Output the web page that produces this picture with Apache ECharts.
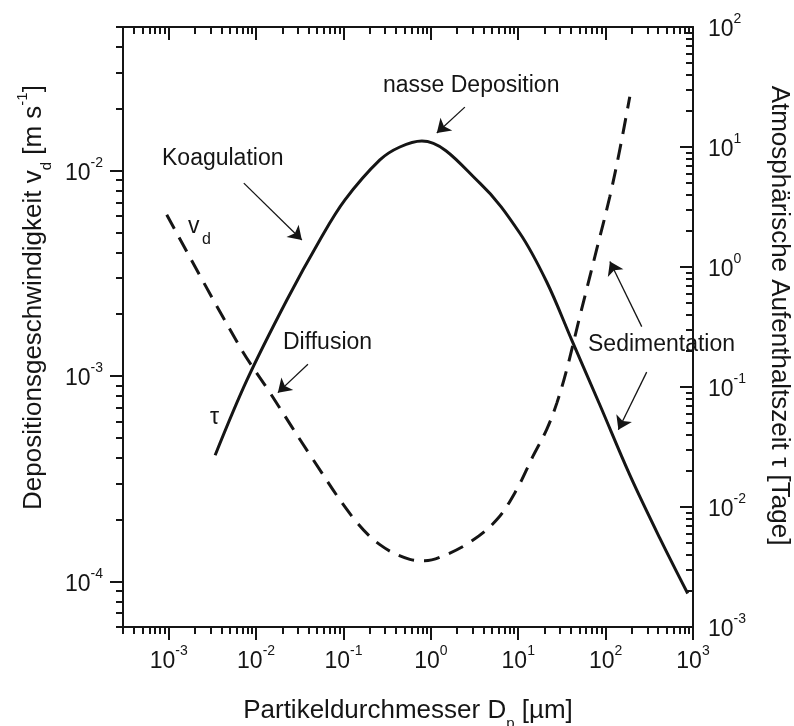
<!DOCTYPE html>
<html>
<head>
<meta charset="utf-8">
<script src="https://cdn.jsdelivr.net/npm/echarts@6/dist/echarts.min.js"></script>
<style>
  html, body { margin: 0; padding: 0; background: #ffffff; }
  #chart { width: 794px; height: 726px; }
</style>
</head>
<body>
<div id="chart"></div>
<script>
// Deposition velocity v_d [m/s] versus particle diameter D_p [µm] (dashed, left axis)
const vdDiameter = [9.5e-4, 6.5e-3, 0.0144, 0.0447, 0.128, 0.261, 0.575, 0.85, 1.27, 2.79, 5.7, 9.6, 14.7, 21.2, 27.7, 36, 50.7, 79, 112, 145, 189];
const vdValues   = [6.1e-3, 1.39e-3, 8.3e-4, 3.93e-4, 2.05e-4, 1.51e-4, 1.28e-4, 1.26e-4, 1.31e-4, 1.55e-4, 2.0e-4, 2.8e-4, 4.06e-4, 5.5e-4, 7.4e-4, 1.08e-3, 1.95e-3, 4.13e-3, 7.5e-3, 0.0126, 0.0229];

// Atmospheric residence time τ [days] versus particle diameter D_p [µm] (solid, right axis)
const tauDiameter = [3.4e-3, 7.85e-3, 0.0225, 0.0537, 0.104, 0.261, 0.442, 0.79, 3.64, 10.4, 21.2, 41, 86, 189, 417, 870];
const tauValues   = [0.027, 0.114, 0.531, 1.68, 3.62, 7.8, 10.0, 11.2, 5.0, 1.92, 0.75, 0.246, 0.0708, 0.0185, 0.0055, 0.0019];

// Axis ranges and labelled decades
const xRange = [3e-4, 1e3];
const vdRange = [6e-5, 5e-2];
const tauRange = [1e-3, 1e2];
const xTickValues = [1e-3, 1e-2, 1e-1, 1, 10, 100, 1000];
const vdTickValues = [1e-4, 1e-3, 1e-2];
const tauTickValues = [1e-3, 1e-2, 1e-1, 1, 10, 100];

const FONT = '"Liberation Sans", Arial, Helvetica, sans-serif';
const INK = '#151515';

// decades 10^k inside a range
function decadesIn(range) {
  const out = [];
  for (let k = Math.floor(Math.log10(range[0])); k <= Math.ceil(Math.log10(range[1])); k++) {
    const v = Number(Math.pow(10, k).toPrecision(6));
    if (v >= range[0] * 0.9999 && v <= range[1] * 1.0001) out.push(v);
  }
  return out;
}
// 2·10^k ... 9·10^k inside a range
function minorsIn(range) {
  const out = [];
  for (let k = Math.floor(Math.log10(range[0])) - 1; k <= Math.ceil(Math.log10(range[1])); k++) {
    for (let m = 2; m <= 9; m++) {
      const v = Number((m * Math.pow(10, k)).toPrecision(6));
      if (v >= range[0] * 0.9999 && v <= range[1] * 1.0001) out.push(v);
    }
  }
  return out;
}

function powerLabel(v) {
  const e = Math.round(Math.log10(v));
  return '{b|10}{s|' + e + '}';
}
const powerRich = {
  b: { fontFamily: FONT, fontSize: 23, color: INK, padding: [6, 0, 0, 0] },
  s: { fontFamily: FONT, fontSize: 14, color: INK, verticalAlign: 'top' }
};

function titleStyle(padding) {
  return {
    fontFamily: FONT, fontSize: 26, color: INK, padding: padding,
    rich: {
      t: { fontFamily: FONT, fontSize: 26, color: INK, padding: [6, 0, 7, 0] },
      sub: { fontFamily: FONT, fontSize: 15, color: INK, verticalAlign: 'bottom' },
      sup: { fontFamily: FONT, fontSize: 15, color: INK, verticalAlign: 'top' }
    }
  };
}

const MAJOR = 13, MINOR = 7;
const lineStyle = { color: INK, width: 2 };

function xAxisSet(position, inside, withLabels, name) {
  const base = {
    type: 'log', logBase: 10, min: xRange[0], max: xRange[1], position: position,
    splitLine: { show: false }, minorTick: { show: false }
  };
  const major = Object.assign({}, base, {
    axisLine: { show: true, lineStyle: lineStyle },
    axisTick: { show: true, inside: inside, length: MAJOR, lineStyle: lineStyle, customValues: decadesIn(xRange) },
    axisLabel: withLabels ? { show: true, margin: 17, formatter: powerLabel, rich: powerRich, customValues: xTickValues } : { show: false }
  });
  if (name) {
    major.name = name;
    major.nameLocation = 'middle';
    major.nameGap = 65;
    major.nameTextStyle = titleStyle([0, 0, 0, 0]);
  }
  const minor = Object.assign({}, base, {
    axisLine: { show: false },
    axisTick: { show: true, inside: inside, length: MINOR, lineStyle: lineStyle, customValues: minorsIn(xRange) },
    axisLabel: { show: false }
  });
  return [major, minor];
}

function yAxisSet(position, range, ticks, inside, labelMargin, name, nameGap, nameRotate, namePadding) {
  const base = {
    type: 'log', logBase: 10, min: range[0], max: range[1], position: position,
    splitLine: { show: false }, minorTick: { show: false }
  };
  const major = Object.assign({}, base, {
    axisLine: { show: true, lineStyle: lineStyle },
    axisTick: { show: true, inside: inside, length: MAJOR, lineStyle: lineStyle, customValues: decadesIn(range) },
    axisLabel: { show: true, margin: labelMargin, formatter: powerLabel, rich: powerRich, customValues: ticks },
    name: name, nameLocation: 'middle', nameGap: nameGap, nameRotate: nameRotate,
    nameTextStyle: titleStyle(namePadding)
  });
  const minor = Object.assign({}, base, {
    axisLine: { show: false },
    axisTick: { show: true, inside: inside, length: MINOR, lineStyle: lineStyle, customValues: minorsIn(range) },
    axisLabel: { show: false }
  });
  return [major, minor];
}

const xAxes = xAxisSet('bottom', false, true, '{t|Partikeldurchmesser D}{sub|p}{t| [µm]}')
  .concat(xAxisSet('top', true, false, null));
const yAxes = yAxisSet('left', vdRange, vdTickValues, false, 20,
    '{t|Depositionsgeschwindigkeit v}{sub|d}{t| [m s}{sup|-1}{t|]}', 65, 90, [0, 0, 0, 59])
  .concat(yAxisSet('right', tauRange, tauTickValues, true, 15,
    '{t|Atmosphärische Aufenthaltszeit τ [Tage]}', 66, -90, [0, 23, 0, 0]));

const arrowStyle = { color: INK, width: 1.3, type: 'solid' };
function arrow(from, to) {
  return [{ coord: from }, { coord: to }];
}

const option = {
  animation: false,
  backgroundColor: '#ffffff',
  grid: { left: 123, right: 101, top: 27, bottom: 99, containLabel: false, outerBoundsMode: 'none' },
  xAxis: xAxes,
  yAxis: yAxes,
  series: [
    {
      name: 'v_d', type: 'line', xAxisIndex: 0, yAxisIndex: 0,
      data: vdDiameter.map((d, i) => [d, vdValues[i]]),
      showSymbol: false, smooth: 0.35,
      lineStyle: { color: INK, width: 3, type: [16, 10] },
      markLine: {
        silent: true, symbol: ['none', 'arrow'], symbolSize: 13,
        label: { show: false }, lineStyle: arrowStyle,
        data: [
          arrow([0.0392, 1.14e-3], [0.01775, 8.3e-4]),
          arrow([259, 1.74e-3], [112, 3.61e-3])
        ]
      }
    },
    {
      name: 'τ', type: 'line', xAxisIndex: 0, yAxisIndex: 2,
      data: tauDiameter.map((d, i) => [d, tauValues[i]]),
      showSymbol: false, smooth: 0.35,
      lineStyle: { color: INK, width: 3 },
      markLine: {
        silent: true, symbol: ['none', 'arrow'], symbolSize: 13,
        label: { show: false }, lineStyle: arrowStyle,
        data: [
          arrow([2.45, 21.5], [1.17, 13.1]),
          arrow([7.24e-3, 5.0], [0.0334, 1.68]),
          arrow([295, 0.133], [140, 0.044])
        ]
      }
    }
  ],
  graphic: [
    { type: 'text', style: { text: 'nasse Deposition', x: 383, y: 86, font: '23px ' + FONT, fill: INK, align: 'left', verticalAlign: 'middle', textAlign: 'left', textVerticalAlign: 'middle' } },
    { type: 'text', style: { text: 'Koagulation', x: 162, y: 159, font: '23px ' + FONT, fill: INK, align: 'left', verticalAlign: 'middle', textAlign: 'left', textVerticalAlign: 'middle' } },
    { type: 'text', style: { text: 'Diffusion', x: 283, y: 343, font: '23px ' + FONT, fill: INK, align: 'left', verticalAlign: 'middle', textAlign: 'left', textVerticalAlign: 'middle' } },
    { type: 'text', style: { text: 'Sedimentation', x: 588, y: 345, font: '23px ' + FONT, fill: INK, align: 'left', verticalAlign: 'middle', textAlign: 'left', textVerticalAlign: 'middle' } },
    { type: 'text', style: { text: 'v', x: 188, y: 227, font: '23px ' + FONT, fill: INK, align: 'left', verticalAlign: 'middle', textAlign: 'left', textVerticalAlign: 'middle' } },
    { type: 'text', style: { text: 'd', x: 202, y: 240, font: '16px ' + FONT, fill: INK, align: 'left', verticalAlign: 'middle', textAlign: 'left', textVerticalAlign: 'middle' } },
    { type: 'text', style: { text: 'τ', x: 210, y: 418, font: '23px ' + FONT, fill: INK, align: 'left', verticalAlign: 'middle', textAlign: 'left', textVerticalAlign: 'middle' } }
  ]
};

const chart = echarts.init(document.getElementById('chart'), null, { renderer: 'canvas' });
chart.setOption(option);
</script>
</body>
</html>
